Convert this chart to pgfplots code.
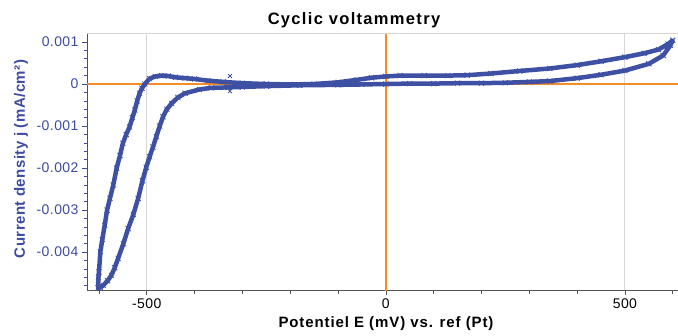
\documentclass[border=0pt]{standalone}
\usepackage{pgfplots}
\pgfplotsset{compat=1.18}
\usepackage{fontspec}
\setmainfont{Liberation Sans}

\definecolor{cvblue}{RGB}{62,80,164}
\definecolor{axblue}{RGB}{60,76,160}
\definecolor{zeroorange}{RGB}{245,140,40}
\definecolor{gridgray}{RGB}{215,215,215}
\definecolor{axgray}{RGB}{85,85,85}

\begin{document}
\begin{tikzpicture}[x=1pt,y=1pt]
\useasboundingbox (0,0) rectangle (678,335);
\begin{axis}[
  at={(87pt,45pt)}, anchor=south west,
  width=591pt, height=256pt, scale only axis,
  xmin=-625, xmax=611, ymin=-0.0049, ymax=0.00119,
  axis x line*=bottom, axis y line*=left,
  x axis line style={axgray, line width=0.8pt, -},
  y axis line style={axblue, line width=0.8pt, -},
  tick align=outside,
  font=\fontsize{14}{16}\selectfont\addfontfeatures{LetterSpace=3},
  xtick={-500,0,500}, xticklabels={-500,0,500},
  minor xtick={-600,-400,-300,-200,-100,100,200,300,400,600},
  x tick style={axgray, line width=0.6pt},
  major tick length=5pt, minor tick length=3.5pt,
  ytick={-0.004,-0.003,-0.002,-0.001,0,0.001},
  yticklabels={-0.004,-0.003,-0.002,-0.001,0,0.001},
  minor ytick={-0.0048,-0.0046,...,0.0011},
  y tick style={axblue, line width=0.6pt},
  y tick label style={text=axblue},
  scaled y ticks=false,
]
% reference lines: grid at +-500 mV, zero lines in orange
\draw[gridgray, line width=1pt] (axis cs:-500,-0.0049) -- (axis cs:-500,0.00119);
\draw[gridgray, line width=1pt] (axis cs:500,-0.0049) -- (axis cs:500,0.00119);
\draw[zeroorange, line width=1.5pt] (axis cs:0,-0.00497) -- (axis cs:0,0.00119);
\draw[zeroorange, line width=1.1pt] (axis cs:-625,0) -- (axis cs:611,0);
% potential sweep: negative-going from the open-circuit start, back to +600 mV and return
\addplot[cvblue, line width=4.5pt, line join=round, mark=x, mark size=3.6pt,
  mark options={line width=0.8pt, cvblue}] coordinates {
  (-330,-0.00008) (-365,-0.00009) (-390,-0.00013) (-420,-0.00022) (-435,-0.00032)
  (-448,-0.00046) (-458,-0.00060) (-466,-0.00078) (-473,-0.00100) (-480,-0.00125)
  (-487,-0.00150) (-494,-0.00173) (-501,-0.00198) (-509,-0.00230) (-518,-0.00272)
  (-528,-0.00310) (-539,-0.00344) (-549,-0.00380) (-560,-0.00415) (-567,-0.00437)
  (-574,-0.00455) (-582,-0.00468) (-591,-0.00479) (-597,-0.00484) (-602,-0.00485)
  (-601,-0.00460) (-600,-0.00447) (-597,-0.00399) (-593,-0.00370) (-588,-0.00336)
  (-583,-0.00300) (-577,-0.00272) (-570,-0.00240) (-563,-0.00200) (-556,-0.00170)
  (-550,-0.00141) (-543,-0.00120) (-536,-0.00102) (-530,-0.00080) (-525,-0.00062)
  (-520,-0.00040) (-515,-0.00022) (-510,-0.00010) (-504,0.00000) (-494,0.00013)
  (-482,0.00018) (-469,0.00020) (-455,0.00019) (-440,0.00016) (-420,0.00014)
  (-400,0.00012) (-372,0.00008) (-340,0.00005) (-300,0.00002) (-250,0.00000)
  (-200,-0.00001) (-150,0.00000) (-100,0.00004) (-60,0.00010) (-30,0.00015)
  (0,0.00018) (30,0.00020) (80,0.00020) (130,0.00020) (170,0.00021)
  (220,0.00025) (280,0.00031) (343,0.00037) (400,0.00045) (450,0.00054)
  (500,0.00064) (540,0.00073) (570,0.00082) (590,0.00095) (600,0.00104)
  (595,0.00092) (580,0.00068) (550,0.00048) (500,0.00032) (450,0.00022)
  (400,0.00014) (343,0.00007) (300,0.00005) (250,0.00003) (200,0.00002)
  (150,0.00002) (100,0.00001) (50,0.00001) (0,0.00000) (-50,-0.00001)
  (-100,-0.00002) (-180,-0.00003) (-250,-0.00005) (-300,-0.00007) (-330,-0.00008)
};
% isolated first samples
\addplot[only marks, mark=x, mark size=2.8pt, mark options={line width=0.8pt, cvblue}]
  coordinates {(-326,0.00019) (-326,-0.00017)};
\end{axis}
\draw[gridgray, line width=1pt] (87,301) -- (678,301);
\node[font=\bfseries\fontsize{16.5}{18}\selectfont\addfontfeatures{LetterSpace=8}] at (354,315) {Cyclic voltammetry};
\node[font=\bfseries\fontsize{15}{17}\selectfont\addfontfeatures{LetterSpace=6}] at (386,11) {Potentiel E (mV) vs. ref (Pt)};
\node[font=\bfseries\fontsize{15}{17}\selectfont\addfontfeatures{LetterSpace=3}, text=axblue, rotate=90] at (21,176) {Current density j (mA/cm²)};
\end{tikzpicture}
\end{document}
